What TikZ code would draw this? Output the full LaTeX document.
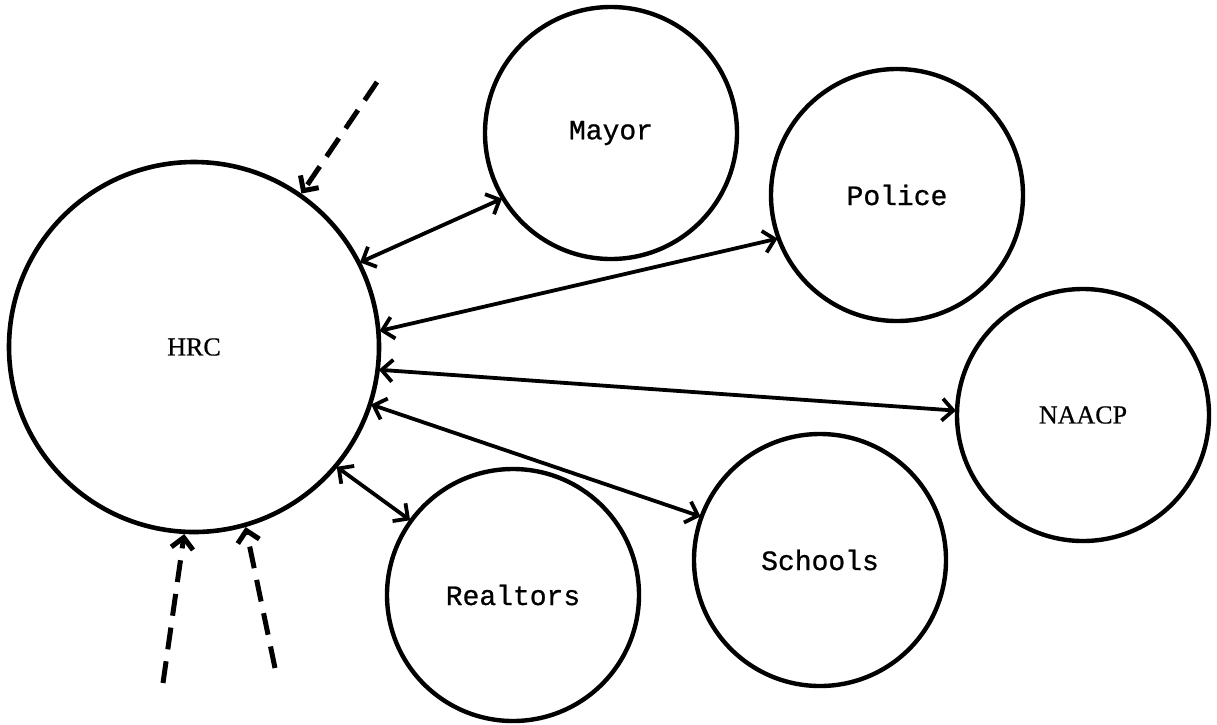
\documentclass[tikz,border=0pt]{standalone}
\usepackage{fontspec}
\setmainfont{Liberation Serif}
\newfontfamily\typed{Liberation Mono}[RawFeature={embolden=0.8}]
\newfontfamily\typedcaps{Liberation Serif}[RawFeature={embolden=0.6}]
\usetikzlibrary{arrows.meta}

\tikzset{
  agency/.style={circle, draw, line width=4.4pt, inner sep=0pt, minimum size=252pt,
    font=\typed\fontsize{28}{30}\selectfont},
  council/.style={circle, draw, line width=4.6pt, inner sep=0pt, minimum size=370pt,
    font=\typedcaps\fontsize{26}{28}\selectfont},
  barb/.tip={Straight Barb[length=11pt,width=22pt]},
  link/.style={line width=3.8pt, barb-barb, shorten <=-1pt, shorten >=-1pt},
  feed/.style={line width=5pt, -barb, dash pattern=on 22pt off 12pt},
}

\begin{document}
\begin{tikzpicture}[x=1pt, y=-1pt]
  \useasboundingbox[fill=white] (0,0) rectangle (1217,724);

  % central commission and the bodies it works with
  \node[council] (hrc) at (194,347) {HRC};
  \node[agency] (mayor) at (611,133) {Mayor};
  \node[agency] (police) at (897,195) {Police};
  \node[agency, font=\typedcaps\fontsize{26}{28}\selectfont] (naacp) at (1083,415) {NAACP};
  \node[agency] (schools) at (820,560) {Schools};
  \node[agency] (realtors) at (513,595) {Realtors};

  % two-way links
  \draw[link] (hrc.27)  -- (mayor.211);
  \draw[link] (hrc.5)   -- (police.200);
  \draw[link] (hrc.353) -- (naacp.178);
  \draw[link] (hrc.342) -- (schools.160);
  \draw[link] (hrc.320) -- (realtors.144);

  % outside inputs
  \coordinate (inA) at (377,82);
  \coordinate (inB) at (163,683);
  \coordinate (inC) at (275,668);
  \draw[feed] (inA) -- (hrc.55);
  \draw[feed] (inB) -- (hrc.267);
  \draw[feed] (inC) -- (hrc.286);
\end{tikzpicture}
\end{document}
